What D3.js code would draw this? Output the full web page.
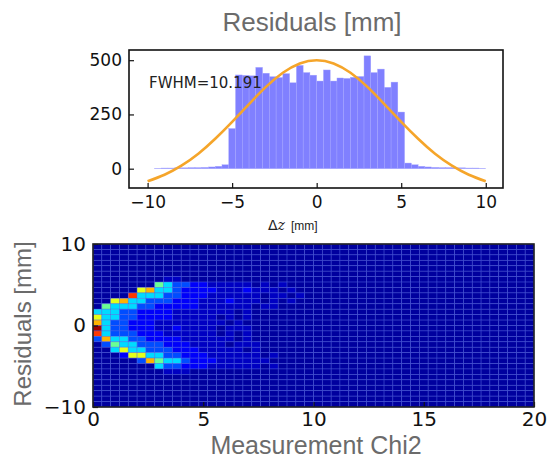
<!DOCTYPE html>
<html>
<head>
<meta charset="utf-8">
<title>Residuals vs Measurement Chi2</title>
<script src="https://cdnjs.cloudflare.com/ajax/libs/d3/7.8.5/d3.min.js"></script>
<style>
  body { margin: 0; background: #fff; }
  text { font-family: "DejaVu Sans", sans-serif; }
  .lbl { font-family: "Liberation Sans", Arial, sans-serif; fill: #6b6b6b; }
</style>
</head>
<body>
<script>
// ---- top panel: residual histogram (0.4 mm bins from -10 to 10) ----
const histStart = -10, histWidth = 0.4;
const histCounts = [0, 2, 3, 3, 4, 4, 5, 5, 6, 8, 11, 18, 185, 432, 430, 428, 467, 440, 424, 420,
                    438, 396, 476, 443, 431, 404, 455, 404, 418, 416, 421, 425, 520, 443, 459, 375, 399, 261, 26, 18,
                    11, 8, 6, 5, 5, 4, 4, 3, 3, 2];
// gaussian fit
const fitX = [-10, -9, -8, -7, -6, -5, -4, -3, -2, -1, 0, 1, 2, 3, 4, 5, 6, 7, 8, 9, 10];
const fitY = [-58, -28, 14, 69, 138, 216, 298, 377, 442, 485, 500, 485, 442, 377, 298, 216, 138, 69, 14, -28, -58];
const fwhmText = "FWHM=10.191";
const histXTicks = [-10, -5, 0, 5, 10];
const histYTicks = [0, 250, 500];

// ---- bottom panel: 2D histogram, chi2 bins 0.4 (0..20), residual bins 2/3 mm (10 .. -10, top row first) ----
// each digit is a colour level 0..9
const chi2Bins = 50, resBins = 30;
const heatRows = [
  "0",
  "0",
  "0",
  "0",
  "0",
  "0",
  "0000000011",
  "0000000543322111110101",
  "00000674432222111211101",
  "000084443322211111101101",
  "00674433322211121110101",
  "05444332222211111101100",
  "444332222111111101",
  "644332222111110101",
  "743322211111111010",
  "943322211211110111",
  "843332221111110101",
  "3744332222111111010",
  "0354433322211110111",
  "0046443332221111101",
  "000266443322211111101",
  "00000375443222111111",
  "000000043322211111101",
  "00000000111",
  "0", "0", "0", "0", "0", "0"
];
const levelValue = [0.03, 0.065, 0.12, 0.2, 0.34, 0.48, 0.6, 0.7, 0.82, 0.97];
const heatXTicks = [0, 5, 10, 15, 20];
const heatYTicks = [-10, 0, 10];

const svg = d3.select("body").append("svg")
  .attr("width", 548)
  .attr("height", 464);

// ================= top panel =================
const x1 = d3.scaleLinear().domain([-11.1, 11.02]).range([129, 503]);
const y1 = d3.scaleLinear().domain([-89, 547]).range([188, 50]);

svg.append("text").attr("class", "lbl")
  .attr("x", 312).attr("y", 31)
  .attr("text-anchor", "middle")
  .style("font-size", "26px")
  .text("Residuals [mm]");

const bins = histCounts.map((c, i) => ({ x0: histStart + i * histWidth, x1: histStart + (i + 1) * histWidth, c: c }));
svg.append("g").selectAll("rect").data(bins).enter().append("rect")
  .attr("x", d => x1(d.x0))
  .attr("width", d => x1(d.x1) - x1(d.x0))
  .attr("y", d => y1(d.c))
  .attr("height", d => y1(0) - y1(d.c))
  .attr("fill", "#8080ff")
  .attr("stroke", "#a6a6ff")
  .attr("stroke-width", 0.4);

const fitLine = d3.line()
  .x((d, i) => x1(fitX[i]))
  .y(d => y1(d))
  .curve(d3.curveNatural);
svg.append("path")
  .attr("d", fitLine(fitY))
  .attr("fill", "none")
  .attr("stroke", "#f5a52a")
  .attr("stroke-width", 2.6);

svg.append("text")
  .attr("x", 149).attr("y", 88)
  .style("font-size", "15px")
  .attr("fill", "#222")
  .text(fwhmText);

const axX1 = svg.append("g").attr("transform", "translate(0,188)")
  .call(d3.axisBottom(x1).tickValues(histXTicks).tickSize(-5).tickPadding(8));
const axY1 = svg.append("g").attr("transform", "translate(129,0)")
  .call(d3.axisLeft(y1).tickValues(histYTicks).tickSize(-5).tickPadding(7));
[axX1, axY1].forEach(a => {
  a.select(".domain").remove();
  a.selectAll("text").style("font-size", "17px").attr("fill", "#111");
  a.selectAll("line").attr("stroke", "#111").attr("stroke-width", 1.2);
});

svg.append("rect")
  .attr("x", 129).attr("y", 50).attr("width", 374).attr("height", 138)
  .attr("fill", "none").attr("stroke", "#111").attr("stroke-width", 1.6);

const dz = svg.append("text").attr("x", 268).attr("y", 230).attr("fill", "#222");
dz.append("tspan").style("font-size", "14px").text("Δ");
dz.append("tspan").style("font-size", "14px").style("font-style", "italic").style("font-family", "DejaVu Serif").text("z");
dz.append("tspan").attr("dx", 6).style("font-family", "Liberation Sans, Arial, sans-serif").style("font-size", "12px").text("[mm]");

// ================= bottom panel =================
const x2 = d3.scaleLinear().domain([0, 20]).range([93, 534]);
const y2 = d3.scaleLinear().domain([-10, 10]).range([407, 244]);
const chi2W = 20 / chi2Bins, resH = 20 / resBins;

function jet(v) {
  const c = t => Math.max(0, Math.min(1, t)) * 255;
  return d3.rgb(c(1.5 - Math.abs(4 * v - 3)), c(1.5 - Math.abs(4 * v - 2)), c(1.5 - Math.abs(4 * v - 1)));
}

const cells = [];
heatRows.forEach((row, k) => {
  const s = row.padEnd(chi2Bins, "0");
  for (let i = 0; i < chi2Bins; i++) {
    const top = 10 - k * resH;
    cells.push({ c0: i * chi2W, c1: (i + 1) * chi2W, r1: top, r0: top - resH, lev: +s[i] });
  }
});

svg.append("g").selectAll("rect").data(cells).enter().append("rect")
  .attr("x", d => x2(d.c0))
  .attr("y", d => y2(d.r1))
  .attr("width", d => x2(d.c1) - x2(d.c0))
  .attr("height", d => y2(d.r0) - y2(d.r1))
  .attr("fill", d => jet(levelValue[d.lev]))
  .attr("stroke", "#4a5ee0")
  .attr("stroke-opacity", 0.55)
  .attr("stroke-width", 0.7);

const axX2 = svg.append("g").attr("transform", "translate(0,407)")
  .call(d3.axisBottom(x2).tickValues(heatXTicks).tickSize(-5).tickPadding(5));
const axY2 = svg.append("g").attr("transform", "translate(93,0)")
  .call(d3.axisLeft(y2).tickValues(heatYTicks).tickSize(-5).tickPadding(7));
[axX2, axY2].forEach(a => {
  a.select(".domain").remove();
  a.selectAll("text").style("font-size", "20px").attr("fill", "#111");
  a.selectAll("line").attr("stroke", "#111").attr("stroke-width", 1.2);
});

svg.append("rect")
  .attr("x", 93).attr("y", 244).attr("width", 441).attr("height", 163)
  .attr("fill", "none").attr("stroke", "#222").attr("stroke-width", 1.6);

svg.append("text").attr("class", "lbl")
  .attr("transform", "translate(31,324) rotate(-90)")
  .attr("text-anchor", "middle")
  .style("font-size", "24px")
  .text("Residuals [mm]");

svg.append("text").attr("class", "lbl")
  .attr("x", 316).attr("y", 454)
  .attr("text-anchor", "middle")
  .style("font-size", "25px")
  .text("Measurement Chi2");
</script>
</body>
</html>
